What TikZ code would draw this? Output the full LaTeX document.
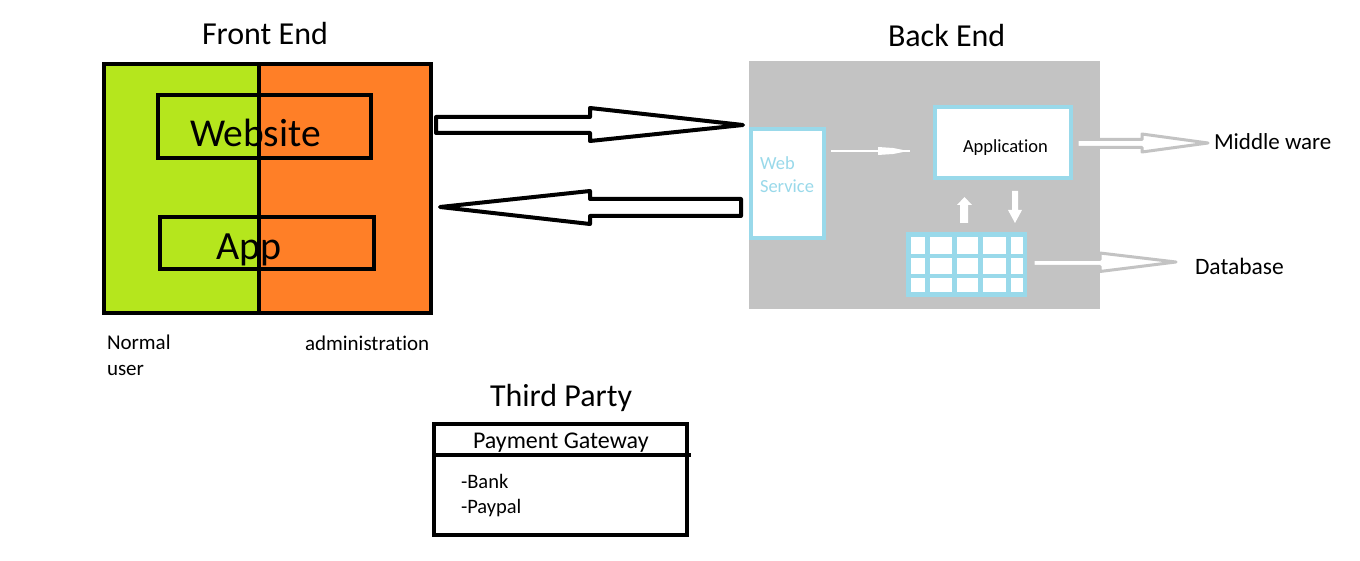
\documentclass[tikz,border=0pt]{standalone}
\usepackage{fontspec}
\setmainfont[Ligatures=NoCommon]{Carlito}
\definecolor{fegreen}{HTML}{B5E61D}
\definecolor{feorange}{HTML}{FF7F27}
\definecolor{begray}{HTML}{C3C3C3}
\definecolor{lblue}{HTML}{99D9EA}
\begin{document}
\begin{tikzpicture}[x=1pt,y=-1pt,
  txt/.style={anchor=base west, inner sep=0pt, outer sep=0pt},
  blk/.style={draw=black, line width=4.5pt},
  blockarrow/.style={draw=black, line width=4pt, fill=white, line join=round},
  grayarrow/.style={draw=begray, line width=3pt, fill=white, line join=round},
  lbbox/.style={draw=lblue, line width=4.5pt, fill=white},
  whitearrow/.style={fill=white, draw=none}]
\useasboundingbox (0,0) rectangle (1360,561);

% ---------- Front End ----------
\node[txt, font=\fontsize{32}{36}\selectfont] (fetitle) at (202,45) {Front End};
\fill[fegreen] (104,64) rectangle (259,313);
\fill[feorange] (259,64) rectangle (431,313);
\node[txt, font=\fontsize{39.5}{44}\selectfont] (website) at (190,147) {Website};
\node[txt, font=\fontsize{40}{44}\selectfont] (app) at (216,260) {App};
\draw[blk] (158,95) rectangle (371,158);
\draw[blk] (160,217) rectangle (374,269);
\draw[blk] (259,64) -- (259,313);
\draw[blk] (104,64) rectangle (431,313);
\node[txt, font=\fontsize{21}{24}\selectfont] (normal) at (107,349) {Normal};
\node[txt, font=\fontsize{21}{24}\selectfont] (user) at (107,375) {user};
\node[txt, font=\fontsize{21}{24}\selectfont] (admin) at (305,350) {administration};

% ---------- block arrows ----------
\draw[blockarrow] (436,117) -- (590,117) -- (590,108) -- (743,125) -- (590,141) -- (590,133) -- (436,133) -- cycle;
\draw[blockarrow] (741,199) -- (590,199) -- (590,191) -- (440,207) -- (590,224) -- (590,216) -- (741,216) -- cycle;

% ---------- Back End ----------
\node[txt, font=\fontsize{32}{36}\selectfont] (betitle) at (888,47) {Back End};
\fill[begray] (749,61) rectangle (1100,309);
\draw[lbbox] (751,129) rectangle (824,238);
\node[txt, text=lblue, font=\fontsize{18.5}{22}\selectfont] (web) at (760,170) {Web};
\node[txt, text=lblue, font=\fontsize{18.5}{22}\selectfont] (service) at (760,193) {Service};
\draw[lbbox] (935,107) rectangle (1071,178);
\node[txt, font=\fontsize{18.5}{21}\selectfont] (application) at (963,153) {Application};

% small arrow web service -> application
\draw[white, line width=2.5pt] (831,151) -- (910,151);
\fill[white] (878,147) -- (893,148) -- (903,150) -- (903,152) -- (893,154) -- (878,155) -- cycle;

% up / down arrows
\fill[white] (960,223) -- (960,205) -- (957,205) -- (964.5,197) -- (972,205) -- (968,205) -- (968,223) -- cycle;
\fill[white] (1012,191) -- (1012,210) -- (1008,210) -- (1015,223) -- (1022,210) -- (1018,210) -- (1018,191) -- cycle;

% database grid
\fill[white] (908.5,234.5) rectangle (1025,294.5);
\draw[lblue, line width=4.5pt] (908.5,234.5) rectangle (1025,294.5);
\foreach \gx in {927.5,954.5,980.5,1008.5}
  \draw[lblue, line width=4.5pt] (\gx,234.5) -- (\gx,294.5);
\foreach \gy in {256,276}
  \draw[lblue, line width=4pt] (908.5,\gy) -- (1025,\gy);

% gray arrows
\draw[grayarrow] (1077,139.5) -- (1142,139.5) -- (1142,134) -- (1208,143) -- (1142,152) -- (1142,147.5) -- (1077,147.5) -- cycle;
\node[txt, font=\fontsize{23}{26}\selectfont] (middle) at (1214,149.5) {Middle ware};
\draw[grayarrow] (1033,259.5) -- (1100,259.5) -- (1100,253) -- (1176,262) -- (1100,271.5) -- (1100,266.5) -- (1033,266.5) -- cycle;
\node[txt, font=\fontsize{23.5}{26}\selectfont] (database) at (1195,274.5) {Database};

% ---------- Third Party ----------
\node[txt, font=\fontsize{32}{36}\selectfont] (tptitle) at (490,406) {Third Party};
\draw[blk] (434,424) rectangle (687,535);
\draw[blk] (434,455) -- (691,455);
\node[txt, font=\fontsize{24}{28}\selectfont] (pg) at (473,448) {Payment Gateway};
\node[txt, font=\fontsize{20.5}{24}\selectfont] (bank) at (461,488) {-Bank};
\node[txt, font=\fontsize{20.5}{24}\selectfont] (paypal) at (461,513) {-Paypal};
\end{tikzpicture}
\end{document}
